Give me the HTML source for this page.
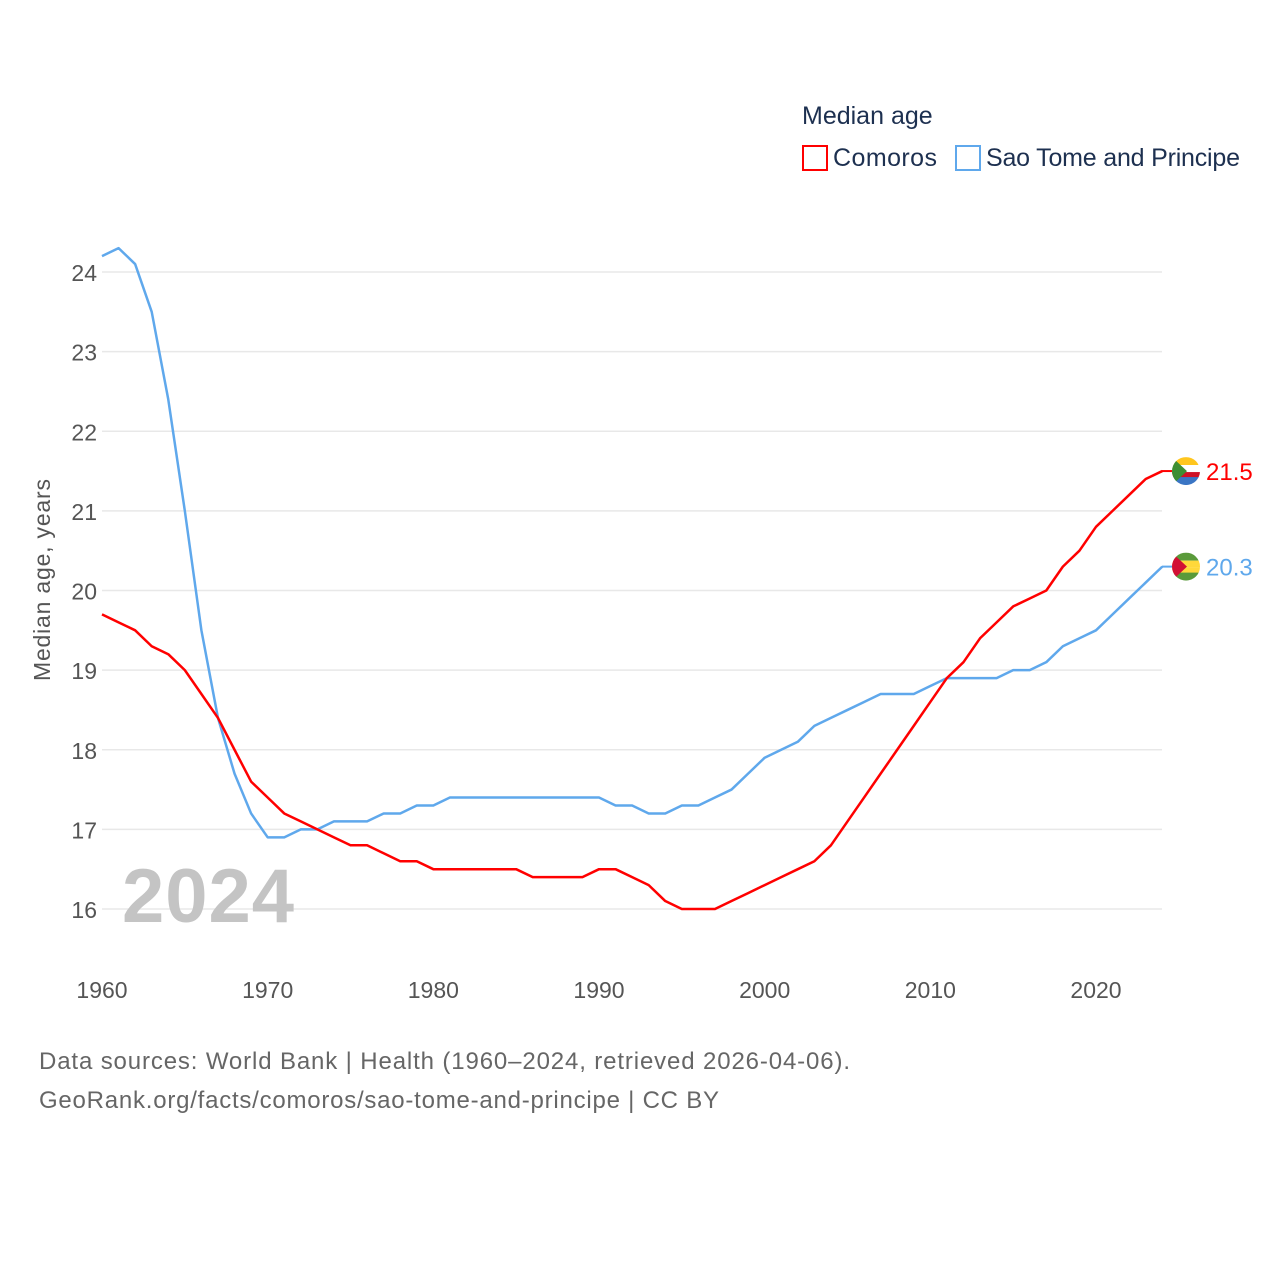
<!DOCTYPE html>
<html><head><meta charset="utf-8"><style>
body{margin:0;background:#fff;width:1280px;height:1280px;overflow:hidden;font-family:"Liberation Sans",sans-serif}
</style></head><body>
<svg width="1280" height="1280" id="chart" style="font-family:'Liberation Sans',sans-serif">
<defs>
<clipPath id="c1"><circle cx="1186" cy="470" r="14"/></clipPath>
<clipPath id="c2"><circle cx="1186" cy="566" r="14"/></clipPath>
</defs>
<text x="802" y="124" font-size="25" fill="#1d3050">Median age</text>
<g><rect x="803" y="146" width="24" height="24" fill="#fff" stroke="#ff0000" stroke-width="2"/><text x="833" y="166" font-size="25" fill="#1d3050" textLength="104">Comoros</text></g>
<g><rect x="956" y="146" width="24" height="24" fill="#fff" stroke="#5fa8ec" stroke-width="2"/><text x="986" y="166" font-size="25" fill="#1d3050" textLength="254">Sao Tome and Principe</text></g>
<g id="grid"></g>
<g id="yt"></g>
<g id="xt"></g>
<text transform="translate(50,580) rotate(-90)" text-anchor="middle" font-size="23" fill="#555" textLength="202">Median age, years</text>
<text x="122" y="922" font-size="76" font-weight="bold" fill="#c4c4c4" textLength="172">2024</text>
<g id="lines"></g>
<text x="39" y="1069" font-size="24" fill="#666" textLength="811">Data sources: World Bank | Health (1960–2024, retrieved 2026-04-06).</text>
<text x="39" y="1108" font-size="24" fill="#666" textLength="680">GeoRank.org/facts/comoros/sao-tome-and-principe | CC BY</text>
</svg>
<script>
const years=[];for(let y=1960;y<=2024;y++)years.push(y);
const comoros=[19.7,19.6,19.5,19.3,19.2,19.0,18.7,18.4,18.0,17.6,17.4,17.2,17.1,17.0,16.9,16.8,16.8,16.7,16.6,16.6,16.5,16.5,16.5,16.5,16.5,16.5,16.4,16.4,16.4,16.4,16.5,16.5,16.4,16.3,16.1,16.0,16.0,16.0,16.1,16.2,16.3,16.4,16.5,16.6,16.8,17.1,17.4,17.7,18.0,18.3,18.6,18.9,19.1,19.4,19.6,19.8,19.9,20.0,20.3,20.5,20.8,21.0,21.2,21.4,21.5];
const saoTome=[24.2,24.3,24.1,23.5,22.4,21.0,19.5,18.4,17.7,17.2,16.9,16.9,17.0,17.0,17.1,17.1,17.1,17.2,17.2,17.3,17.3,17.4,17.4,17.4,17.4,17.4,17.4,17.4,17.4,17.4,17.4,17.3,17.3,17.2,17.2,17.3,17.3,17.4,17.5,17.7,17.9,18.0,18.1,18.3,18.4,18.5,18.6,18.7,18.7,18.7,18.8,18.9,18.9,18.9,18.9,19.0,19.0,19.1,19.3,19.4,19.5,19.7,19.9,20.1,20.3];
const yTicks=[16,17,18,19,20,21,22,23,24];
const xTicks=[1960,1970,1980,1990,2000,2010,2020];
const NS="http://www.w3.org/2000/svg";
const X=y=>102+(y-1960)*994/60;
const Y=v=>909-(v-16)*637/8;
function mk(t,a,p){const e=document.createElementNS(NS,t);for(const k in a)e.setAttribute(k,a[k]);p.appendChild(e);return e;}
const grid=document.getElementById('grid'),yt=document.getElementById('yt'),xt=document.getElementById('xt'),lines=document.getElementById('lines');
yTicks.forEach(v=>{
 mk('line',{x1:102,x2:1162,y1:Y(v),y2:Y(v),stroke:'#e8e8e8','stroke-width':1.5},grid);
 const t=mk('text',{x:97,y:Y(v)+9,'text-anchor':'end','font-size':23,fill:'#555'},yt);t.textContent=v;
});
xTicks.forEach(v=>{const t=mk('text',{x:X(v),y:998,'text-anchor':'middle','font-size':23,fill:'#555'},xt);t.textContent=v;});
function series(vals,color,name,label,flag,clip){
 const p=mk('polyline',{points:vals.map((v,i)=>X(years[i])+','+Y(v)).join(' '),fill:'none',stroke:color,'stroke-width':2.5,'stroke-linejoin':'round'},lines);
 
 
 const last=vals[vals.length-1],ly=Y(last);
 mk('line',{x1:1162,x2:1175,y1:ly,y2:ly,stroke:color,'stroke-width':2},lines);
 const g=mk('g',{'clip-path':'url(#'+clip+')',transform:'translate(0,'+(ly-(clip==='c1'?470:566))+')'},lines);
 
 
 const cy=clip==='c1'?470:566;
 const isC=color==='#ff0000';
 mk('rect',{x:1172,y:cy-14,width:28,height:8,fill:isC?'#ffc61e':'#5a9a3a'},g);
 mk('rect',{x:1172,y:cy-6,width:28,height:7,fill:isC?'#ffffff':'#ffd83a'},g);
 mk('rect',{x:1172,y:cy+1,width:28,height:6,fill:isC?'#ce1126':'#ffd83a'},g);
 mk('rect',{x:1172,y:cy+6,width:28,height:8,fill:isC?'#3a75c4':'#5a9a3a'},g);
 mk('polygon',{points:`1172,${cy-14} 1187,${cy} 1172,${cy+14}`,fill:isC?'#3d8e33':'#d21034'},g);
 const t=mk('text',{x:1206,y:ly+9,'font-size':24,fill:color},lines);t.textContent=label;
 
 
}
series(saoTome,'#5fa8ec','sao-tome-line',saoTome[saoTome.length-1].toFixed(1),'sao-tome-flag','c2');
series(comoros,'#ff0000','comoros-line',comoros[comoros.length-1].toFixed(1),'comoros-flag','c1');
</script>
</body></html>
